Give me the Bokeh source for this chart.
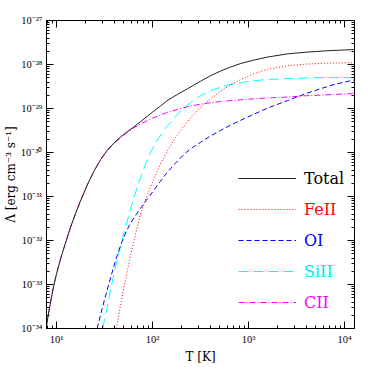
from bokeh.plotting import figure
from bokeh.models import (LogAxis, FixedTicker, CustomJSTickFormatter, Legend,
                          LegendItem, Range1d)
from bokeh.embed import file_html
from bokeh.resources import INLINE

# ---- data: log10(T [K]) and log10(Lambda [erg cm^3 s^-1]) ----
logT_total = [0.896, 0.92, 0.945, 0.972, 1.0, 1.042, 1.076, 1.146, 1.2, 1.25, 1.32, 1.389,
              1.46, 1.528, 1.6, 1.667, 1.74, 1.805, 1.875, 1.95, 2.0, 2.08, 2.153, 2.26,
              2.365, 2.5, 2.6, 2.708, 2.81, 2.93, 3.055, 3.2, 3.4, 3.6, 3.8, 4.0, 4.104]
logL_total = [-33.93, -33.62, -33.32, -33.02, -32.76, -32.42, -32.18, -31.70, -31.38, -31.10,
              -30.74, -30.43, -30.16, -29.95, -29.78, -29.65, -29.52, -29.42, -29.30, -29.17,
              -29.08, -28.95, -28.82, -28.68, -28.55, -28.38, -28.26, -28.15, -28.06, -27.97,
              -27.90, -27.83, -27.76, -27.72, -27.69, -27.67, -27.66]

logT_cii = [0.896, 0.92, 0.945, 0.972, 1.0, 1.042, 1.076, 1.146, 1.2, 1.25, 1.32, 1.389,
            1.46, 1.528, 1.6, 1.667, 1.74, 1.805, 1.875, 1.95, 2.0, 2.08, 2.153, 2.26,
            2.365, 2.5, 2.6, 2.71, 2.93, 3.055, 3.2, 3.4, 3.6, 3.8, 4.104]
logL_cii = [-33.93, -33.62, -33.32, -33.02, -32.76, -32.42, -32.18, -31.70, -31.38, -31.10,
            -30.74, -30.43, -30.16, -29.96, -29.79, -29.67, -29.54, -29.44, -29.35, -29.27,
            -29.22, -29.15, -29.09, -29.02, -28.96, -28.90, -28.87, -28.84, -28.80, -28.78,
            -28.76, -28.74, -28.71, -28.69, -28.66]

logT_sii = [1.482, 1.51, 1.54, 1.58, 1.625, 1.66, 1.70, 1.75, 1.80, 1.875, 1.93, 1.979,
            2.05, 2.153, 2.23, 2.31, 2.4, 2.5, 2.6, 2.7, 2.8, 2.93, 3.055, 3.2, 3.4, 3.7, 4.104]
logL_sii = [-34.0, -33.7, -33.38, -32.95, -32.5, -32.2, -31.86, -31.45, -31.07, -30.57,
            -30.25, -30.0, -29.72, -29.40, -29.2, -29.02, -28.86, -28.71, -28.60, -28.52,
            -28.46, -28.41, -28.37, -28.34, -28.32, -28.30, -28.30]

logT_feii = [1.625, 1.66, 1.70, 1.735, 1.771, 1.82, 1.875, 1.944, 2.01, 2.08, 2.153, 2.24,
             2.326, 2.41, 2.5, 2.6, 2.708, 2.8, 2.93, 3.055, 3.2, 3.4, 3.6, 3.8, 4.104]
logL_feii = [-34.0, -33.55, -33.10, -32.72, -32.35, -31.88, -31.40, -30.98, -30.62, -30.28,
             -29.97, -29.66, -29.40, -29.18, -28.98, -28.79, -28.61, -28.48, -28.33, -28.21,
             -28.11, -28.03, -27.99, -27.97, -27.96]

logT_oi = [1.424, 1.46, 1.50, 1.54, 1.58, 1.615, 1.65, 1.684, 1.72, 1.76, 1.82, 1.875,
           1.93, 1.96, 2.01, 2.07, 2.153, 2.24, 2.344, 2.42, 2.5, 2.6, 2.708, 2.81, 2.917,
           3.055, 3.2, 3.406, 3.6, 3.75, 3.9, 4.104]
logL_oi = [-34.0, -33.68, -33.35, -33.03, -32.72, -32.46, -32.22, -32.02, -31.83, -31.65,
           -31.44, -31.27, -31.10, -31.02, -30.87, -30.69, -30.45, -30.24, -30.01, -29.88,
           -29.77, -29.63, -29.50, -29.38, -29.27, -29.13, -28.99, -28.82, -28.66, -28.55,
           -28.45, -28.35]

series_names = ["Total", "FeII", "OI", "SiII", "CII"]
series_colors = ["#222222", "#ff0000", "#0000ff", "#00ffff", "#ff00ff"]
label_colors = ["black", "#ff0000", "#0000ff", "#00e8f0", "#ff00ff"]
x_ticks = [10, 100, 1000, 10000]
y_ticks = [1e-34, 1e-33, 1e-32, 1e-31, 1e-30, 1e-29, 1e-28, 1e-27]
x_range = (7.87, 12700)
y_range = (1e-34, 1e-27)


def pw(a):
    return [10 ** v for v in a]


x_minor = [m * 10 ** k for k in range(0, 5) for m in range(2, 10)]
y_minor = [m * 10.0 ** k for k in range(-34, -27) for m in range(2, 10)]

SERIF = "DejaVu Serif"
TICKFONT = "Liberation Serif"

p = figure(frame_width=308, frame_height=308, x_axis_type="log", y_axis_type="log",
           x_range=Range1d(*x_range), y_range=Range1d(*y_range),
           output_backend="svg", toolbar_location=None,
           min_border_left=38, min_border_right=12, min_border_top=20,
           min_border_bottom=38)
p.xgrid.visible = False
p.ygrid.visible = False
p.outline_line_color = "black"
p.background_fill_color = "white"

sup_code = r"""
const s = {"-":"\u207b","0":"\u2070","1":"\u00b9","2":"\u00b2","3":"\u00b3","4":"\u2074",
           "5":"\u2075","6":"\u2076","7":"\u2077","8":"\u2078","9":"\u2079"};
const e = Math.round(Math.log10(tick));
return "10" + String(e).split("").map(c => s[c]).join("");
"""


def style_axis(ax, labels=True):
    ax.major_tick_in = 7
    ax.major_tick_out = 0
    ax.minor_tick_in = 3
    ax.minor_tick_out = 0
    ax.axis_line_color = "black"
    ax.major_tick_line_color = "black"
    ax.minor_tick_line_color = "black"
    if labels:
        ax.formatter = CustomJSTickFormatter(code=sup_code)
        ax.major_label_text_font = TICKFONT
        ax.major_label_text_font_size = "10.5px"
        ax.major_label_text_color = "black"
        ax.major_label_standoff = 4
        ax.axis_label_text_font = SERIF
        ax.axis_label_text_font_style = "normal"
        ax.axis_label_text_font_size = "12px"
        ax.axis_label_text_color = "black"
        ax.axis_label_standoff = 2
    else:
        ax.major_label_text_alpha = 0
        ax.major_label_text_font_size = "1px"
        ax.major_label_standoff = 0


p.xaxis[0].ticker = FixedTicker(ticks=x_ticks, minor_ticks=x_minor)
p.yaxis[0].ticker = FixedTicker(ticks=y_ticks, minor_ticks=y_minor)
style_axis(p.xaxis[0])
style_axis(p.yaxis[0])
p.xaxis[0].axis_label = "T [K]"
p.xaxis[0].major_label_standoff = 5
p.yaxis[0].axis_label = "\u039b [erg cm\u207b\u00b3 s\u207b\u00b9]"
p.yaxis[0].axis_label_standoff = 0

# mirrored tick axes drawn on the frame edges (take no border space)
top = LogAxis(ticker=FixedTicker(ticks=x_ticks, minor_ticks=x_minor),
              fixed_location=y_range[1])
style_axis(top, labels=False)
p.add_layout(top, "above")
right = LogAxis(ticker=FixedTicker(ticks=y_ticks, minor_ticks=y_minor),
                fixed_location=x_range[1])
style_axis(right, labels=False)
p.add_layout(right, "right")

r_cii = p.line(pw(logT_cii), pw(logL_cii), line_color=series_colors[4], line_width=1,
               line_dash="6 2 1 2")
r_sii = p.line(pw(logT_sii), pw(logL_sii), line_color=series_colors[3], line_width=1,
               line_dash="10 5")
r_oi = p.line(pw(logT_oi), pw(logL_oi), line_color=series_colors[2], line_width=1,
              line_dash="5 3")
r_fe = p.line(pw(logT_feii), pw(logL_feii), line_color=series_colors[1], line_width=1,
              line_dash="1 2")
r_tot = p.line(pw(logT_total), pw(logL_total), line_color=series_colors[0], line_width=1)

renderers = [r_tot, r_fe, r_oi, r_sii, r_cii]
legend_y = [140, 109, 78, 47, 16]
for r, name, col, ly in zip(renderers, series_names, label_colors, legend_y):
    leg = Legend(items=[LegendItem(label=name, renderers=[r])], location=(192, ly),
                 glyph_width=58, glyph_height=20, label_height=20, label_standoff=8,
                 padding=0, margin=0, spacing=0,
                 border_line_alpha=0, background_fill_alpha=0,
                 label_text_font=SERIF, label_text_font_size="16px",
                 label_text_color=col, label_text_baseline="alphabetic")
    p.add_layout(leg)

open("out.html", "w").write(file_html(p, INLINE))
